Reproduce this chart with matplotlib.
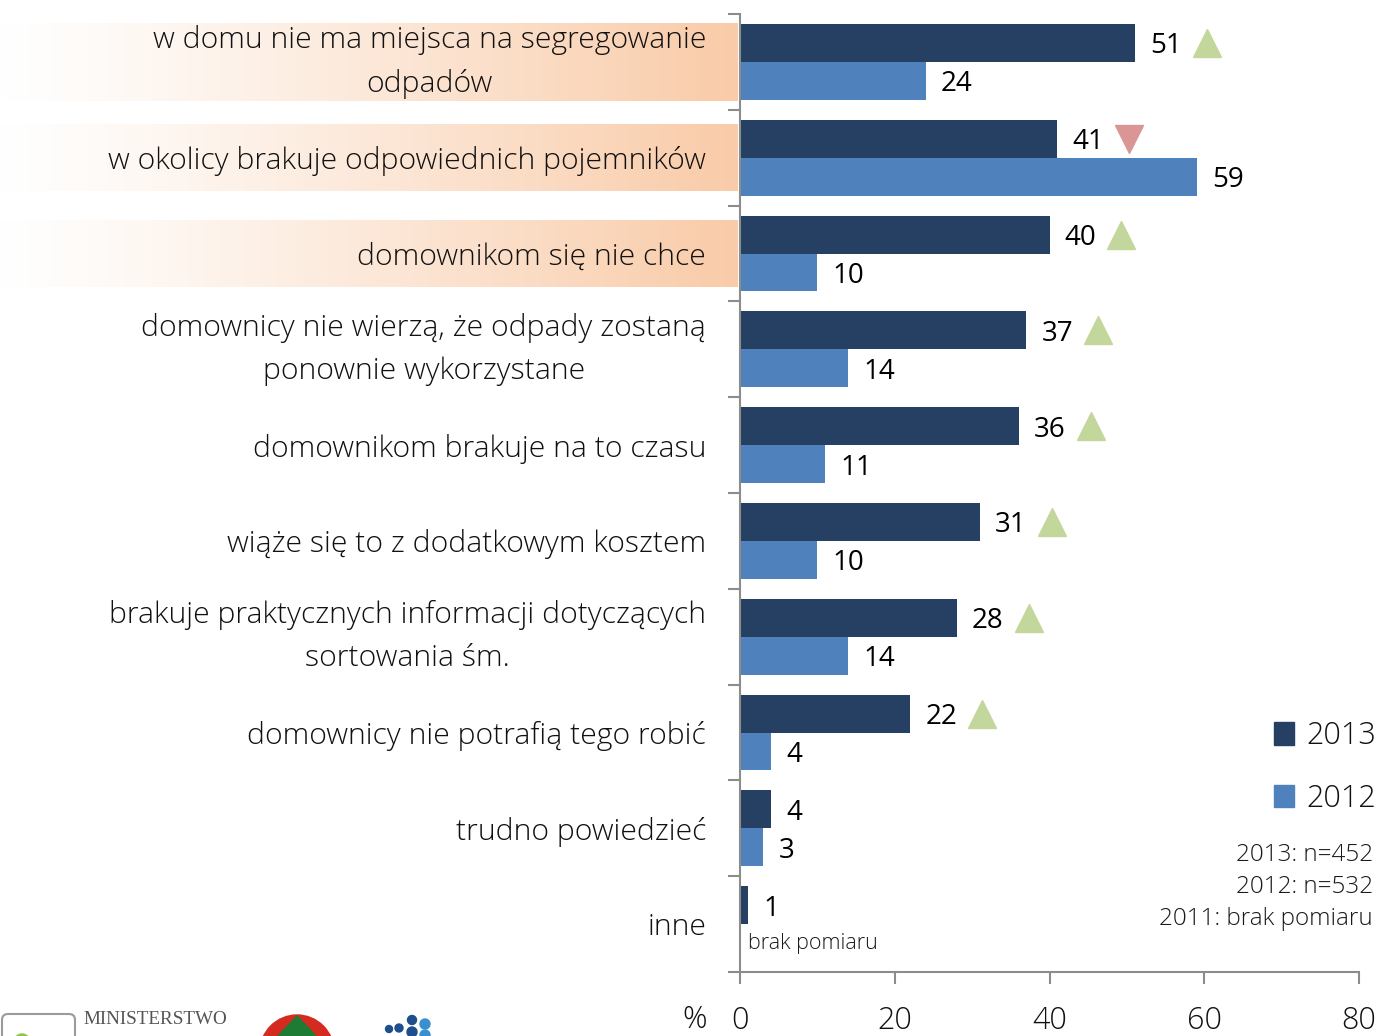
import numpy as np
import matplotlib
matplotlib.use("Agg")
import matplotlib.pyplot as plt
from matplotlib.patches import Patch, Circle, FancyBboxPatch, Polygon

# --- data ---
categories = [
    "w domu nie ma miejsca na segregowanie\nodpadów",
    "w okolicy brakuje odpowiednich pojemników",
    "domownikom się nie chce",
    "domownicy nie wierzą, że odpady zostaną\nponownie wykorzystane",
    "domownikom brakuje na to czasu",
    "wiąże się to z dodatkowym kosztem",
    "brakuje praktycznych informacji dotyczących\nsortowania śm.",
    "domownicy nie potrafią tego robić",
    "trudno powiedzieć",
    "inne",
]
values_2013 = [51, 41, 40, 37, 36, 31, 28, 22, 4, 1]
values_2012 = [24, 59, 10, 14, 11, 10, 14, 4, 3, None]
trend = ["up", "down", "up", "up", "up", "up", "up", "up", None, None]
highlighted = [0, 1, 2]
band_heights = [0.81, 0.69, 0.69]
x_ticks = [0, 20, 40, 60, 80]
notes = "2013: n=452\n2012: n=532\n2011: brak pomiaru"

DARK = "#264064"
LIGHT = "#4F81BD"
GRAY = "#8C8C8C"
GREEN = "#C3D69B"
RED = "#D99694"
PEACH = np.array([249, 203, 168]) / 255.0

plt.rcParams["font.family"] = ["Open Sans", "DejaVu Sans"]

W, H = 1379, 1036
fig = plt.figure(figsize=(W / 100, H / 100), dpi=100)

bg = fig.add_axes([0, 0, 1, 1], zorder=0)
bg.set_xlim(0, W)
bg.set_ylim(H, 0)
bg.axis("off")

ax = fig.add_axes([740 / W, 64 / H, 619 / W, 958 / H], zorder=1)
ax.patch.set_alpha(0)

n = len(categories)
idx = np.arange(n)
bar_h = 0.396
y13 = idx + 0.104 + bar_h / 2
y12 = y13 + bar_h

ax.barh(y13, values_2013, height=bar_h, color=DARK, label="2013")
mask = [v is not None for v in values_2012]
ax.barh(y12[mask], [v for v in values_2012 if v is not None], height=bar_h,
        color=LIGHT, label="2012")

ax.set_xlim(0, 80)
ax.set_ylim(n, 0)

for y, v in zip(y13, values_2013):
    ax.annotate(str(v), (v, y), xytext=(11, 0), textcoords="offset points",
                va="center_baseline", ha="left", fontsize=20, color="black")
for y, v in zip(y12, values_2012):
    if v is None:
        ax.text(1, y, "brak pomiaru", va="center", ha="left", fontsize=15.5,
                color="#1a1a1a", fontweight="light")
    else:
        ax.annotate(str(v), (v, y), xytext=(11, 0), textcoords="offset points",
                    va="center_baseline", ha="left", fontsize=20, color="black")

for y, v, t in zip(y13, values_2013, trend):
    if t == "up":
        ax.plot(v + 9.3, y, marker="^", ms=20, color=GREEN, clip_on=False)
    elif t == "down":
        ax.plot(v + 9.3, y, marker="v", ms=20, color=RED, clip_on=False)

# category labels
ytrans = ax.get_yaxis_transform()
for i, cat in zip(idx, categories):
    ax.text(-34 / 619, i + 0.5, cat, transform=ytrans, ha="right",
            va="center" if "\n" in cat else "center_baseline",
            multialignment="center", linespacing=1.58, fontsize=21.7,
            fontweight="light", color="#111111")

# axes styling
for s in ["top", "right"]:
    ax.spines[s].set_visible(False)
for s in ["left", "bottom"]:
    ax.spines[s].set_color(GRAY)
    ax.spines[s].set_linewidth(1.5)

ax.set_xticks(x_ticks)
ax.set_xticklabels([str(t) for t in x_ticks], fontweight="light")
ax.tick_params(axis="x", direction="out", length=8.6, width=1.5, color=GRAY,
               pad=15.5, labelsize=22, labelcolor="#111111")
ax.set_yticks(np.arange(n + 1))
ax.set_yticklabels([])
ax.tick_params(axis="y", direction="out", length=8.6, width=1.5, color=GRAY)

ax.text(-0.053, -0.05, "%", transform=ax.transAxes, ha="right", va="center",
        fontsize=22, fontweight="light", color="#111111")

# gradient bands behind highlighted labels
grad_t = np.linspace(0, 1, 256) ** 1.2
grad = np.ones((1, 256, 3)) * (1 - grad_t[None, :, None]) + PEACH * grad_t[None, :, None]
to_bg = ax.transData + bg.transData.inverted()
for i, h in zip(highlighted, band_heights):
    _, ytop = to_bg.transform((0, i + 0.5 - h / 2))
    _, ybot = to_bg.transform((0, i + 0.5 + h / 2))
    xr, _ = to_bg.transform((0, 0))
    bg.imshow(grad, extent=[0, xr - 2, ybot, ytop], aspect="auto", zorder=0)
bg.set_xlim(0, W)
bg.set_ylim(H, 0)

# legend and notes
fig.legend(handles=[Patch(color=DARK, label="2013"), Patch(color=LIGHT, label="2012")],
           loc="upper right", bbox_to_anchor=(1376 / W, 1 - 720 / H), frameon=False,
           handlelength=0.65, handleheight=0.75, handletextpad=0.4,
           labelspacing=1.0, borderaxespad=0, borderpad=0,
           prop={"weight": "light", "size": 22}, labelcolor="#111111")
fig.text(1373 / W, 1 - 887 / H, notes, ha="right", va="center", fontsize=17.5,
         fontweight="light", linespacing=1.45, color="#1a1a1a")

# logo strip (cut off at the bottom of the reference)
bg.add_patch(FancyBboxPatch((2, 1014), 73, 40, boxstyle="round,pad=0,rounding_size=6",
                            fc="none", ec="#9a9a9a", lw=1.5))
bg.add_patch(Circle((22, 1042), 8, color="#8DC63F"))
bg.text(83, 1011, "MINISTERSTWO", family="Liberation Serif", fontsize=13.8,
        color="#555555", va="top", ha="left")
bg.add_patch(Circle((297, 1052), 37, color="#D42A1F"))
bg.add_patch(Polygon([(297, 1016), (276, 1038), (318, 1038)], color="#1E7B34"))
for (cx, cy, r, c) in [(389, 1029, 3.5, "#1F4E8C"), (399, 1028, 4, "#1F4E8C"),
                       (412, 1020, 4.5, "#1F4E8C"), (412, 1032, 5, "#1F4E8C"),
                       (425, 1024, 5, "#3A8FD0"), (425, 1035, 5, "#3A8FD0")]:
    bg.add_patch(Circle((cx, cy), r, color=c))

fig.savefig("out.png", dpi=100)
